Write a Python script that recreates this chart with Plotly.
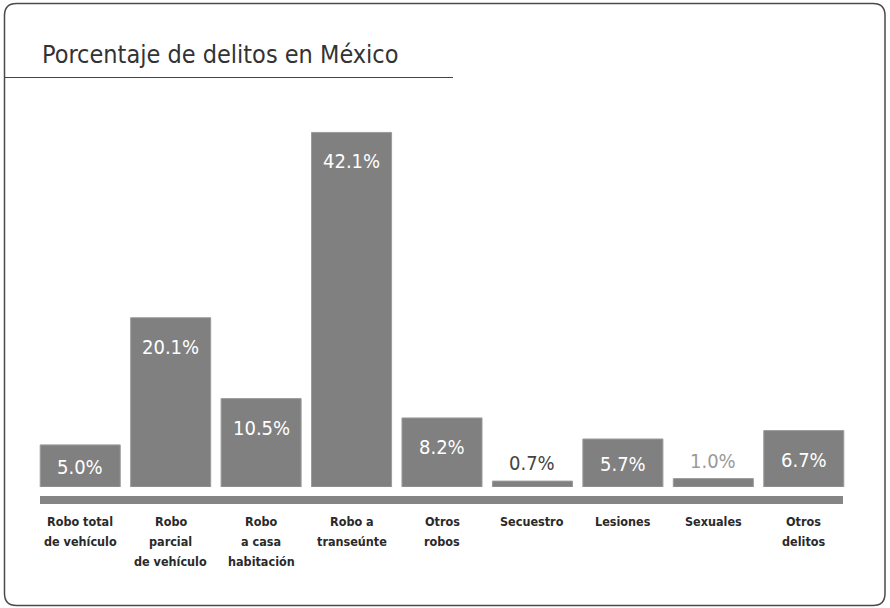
import plotly.graph_objects as go

# Crime categories (multi-line labels) and their share of total crimes (%)
categories = [
    "Robo total<br>de vehículo",
    "Robo<br>parcial<br>de vehículo",
    "Robo<br>a casa<br>habitación",
    "Robo a<br>transeúnte",
    "Otros<br>robos",
    "Secuestro",
    "Lesiones",
    "Sexuales",
    "Otros<br>delitos",
]
values = [5.0, 20.1, 10.5, 42.1, 8.2, 0.7, 5.7, 1.0, 6.7]
value_labels = ["5.0%", "20.1%", "10.5%", "42.1%", "8.2%", "0.7%", "5.7%", "1.0%", "6.7%"]

# Canvas geometry (pixels)
W_PX, H_PX = 890, 608
M_L, M_R, M_T, M_B = 35, 41, 108, 121
PLOT_W = W_PX - M_L - M_R
PLOT_H = H_PX - M_T - M_B
Y_MAX = 45.0
PX_PER_UNIT = PLOT_H / Y_MAX

FONT = "DejaVu Sans Condensed, Liberation Sans Narrow, sans-serif"
BAR_COLOR = "#808080"


def px_x(px):
    return (px - M_L) / PLOT_W


def px_y(py):
    return (H_PX - M_B - py) / PLOT_H


x_idx = list(range(len(categories)))

fig = go.Figure(
    go.Bar(
        x=x_idx,
        y=values,
        marker=dict(color=BAR_COLOR, line=dict(color="#9c9c9c", width=1)),
        hoverinfo="skip",
    )
)

annotations = []
for i, (v, lab) in enumerate(zip(values, value_labels)):
    h = v * PX_PER_UNIT
    if h >= 30:
        # value written inside the bar, near its top
        annotations.append(dict(
            x=i, y=v, xref="x", yref="y", text=lab, showarrow=False,
            yanchor="middle", yshift=-min(29, h / 2 + 1),
            font=dict(family=FONT, size=20, color="white"),
        ))
    else:
        # thin bars get the value just above them
        annotations.append(dict(
            x=i, y=v, xref="x", yref="y", text=lab, showarrow=False,
            yanchor="middle", yshift=18,
            font=dict(family=FONT, size=20, color="#444444" if i == 5 else "#9a9a9a"),
        ))

# category labels under the base band, one annotation per line (20 px leading)
for i, cat in enumerate(categories):
    for k, line in enumerate(cat.split("<br>")):
        annotations.append(dict(
            x=i, y=px_y(521 + 20 * k), xref="x", yref="paper",
            text="<b>" + line + "</b>",
            showarrow=False, yanchor="middle", align="center",
            font=dict(family=FONT, size=12.5, color="#2a2a2a"),
        ))

# title
annotations.append(dict(
    x=px_x(40), y=px_y(55), xref="paper", yref="paper",
    text="Porcentaje de delitos en México", showarrow=False,
    xanchor="left", yanchor="middle",
    font=dict(family=FONT, size=25, color="#333333"),
))

# rounded frame around the whole card
x0, x1 = px_x(4.5), px_x(885)
y0, y1 = px_y(605.5), px_y(3.5)
r = 12
rx, ry = r / PLOT_W, r / PLOT_H
frame = (
    f"M {x0 + rx} {y1} L {x1 - rx} {y1} Q {x1} {y1} {x1} {y1 - ry} "
    f"L {x1} {y0 + ry} Q {x1} {y0} {x1 - rx} {y0} "
    f"L {x0 + rx} {y0} Q {x0} {y0} {x0} {y0 + ry} "
    f"L {x0} {y1 - ry} Q {x0} {y1} {x0 + rx} {y1} Z"
)

shapes = [
    dict(type="path", path=frame, xref="paper", yref="paper",
         line=dict(color="#4a4a4a", width=1.5), layer="above"),
    # title underline
    dict(type="line", xref="paper", yref="paper",
         x0=px_x(4.5), x1=px_x(453), y0=px_y(77.5), y1=px_y(77.5),
         line=dict(color="#444444", width=1.2)),
    # base band under the bars
    dict(type="rect", xref="paper", yref="paper",
         x0=px_x(40), x1=px_x(843), y0=px_y(504), y1=px_y(496),
         fillcolor="#858585", line=dict(width=0)),
]

fig.update_layout(
    width=W_PX, height=H_PX,
    margin=dict(l=M_L, r=M_R, t=M_T, b=M_B),
    paper_bgcolor="white", plot_bgcolor="white",
    bargap=0.115,
    showlegend=False,
    xaxis=dict(range=[-0.5, len(categories) - 0.5], visible=False, fixedrange=True),
    yaxis=dict(range=[0, Y_MAX], visible=False, fixedrange=True),
    annotations=annotations,
    shapes=shapes,
)

fig.write_html("out.html")
